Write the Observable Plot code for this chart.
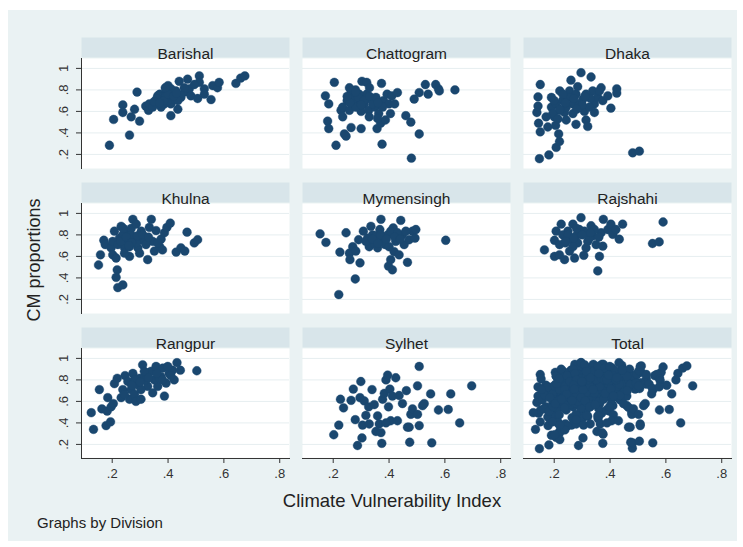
<!DOCTYPE html>
<html><head><meta charset="utf-8">
<script src="https://cdn.jsdelivr.net/npm/d3@7"></script>
<script src="https://cdn.jsdelivr.net/npm/@observablehq/plot@0.6"></script>
<style>
html,body{margin:0;padding:0;background:#fff;}
#wrap{position:relative;width:743px;height:547px;overflow:hidden;font-family:"Liberation Sans",Arial,sans-serif;}
#bg{position:absolute;left:8px;top:10px;width:729px;height:531px;background:#EAF2F3;}
#chart{position:absolute;left:0;top:0;}
.lbl{position:absolute;color:#222;white-space:nowrap;line-height:1;}
#ylab{left:34px;top:260px;font-size:18px;transform:translate(-50%,-50%) rotate(-90deg);}
#xlab{left:392px;top:501px;font-size:18.5px;transform:translate(-50%,-50%);}
#cap{left:37px;top:522px;font-size:15px;transform:translate(0,-50%);}
</style></head><body>
<div id="wrap"><div id="bg"></div><div id="chart"></div>
<div class="lbl" id="ylab">CM proportions</div>
<div class="lbl" id="xlab">Climate Vulnerability Index</div>
<div class="lbl" id="cap">Graphs by Division</div>
</div>
<script>
const divisions = ["Barishal","Chattogram","Dhaka","Khulna","Mymensingh","Rajshahi","Rangpur","Sylhet","Total"];
const xTicks = [0.2, 0.4, 0.6, 0.8];
const yTicks = [0.2, 0.4, 0.6, 0.8, 1];
const xDomain = [0.09, 0.835];
const yDomain = [0.069, 1.092];

const barishal = [[0.19,0.285],[0.205,0.525],[0.238,0.66],[0.238,0.59],[0.262,0.38],[0.268,0.55],[0.28,0.62],[0.289,0.78],[0.298,0.51],[0.32,0.65],[0.33,0.61],[0.345,0.67],[0.357,0.70],[0.37,0.76],[0.38,0.73],[0.393,0.79],[0.40,0.84],[0.405,0.73],[0.41,0.67],[0.41,0.56],[0.417,0.76],[0.428,0.79],[0.435,0.62],[0.44,0.88],[0.446,0.73],[0.458,0.78],[0.47,0.90],[0.476,0.81],[0.482,0.745],[0.512,0.93],[0.506,0.72],[0.512,0.87],[0.53,0.81],[0.554,0.71],[0.56,0.84],[0.577,0.82],[0.583,0.87],[0.643,0.86],[0.66,0.91],[0.675,0.93],[0.333,0.67],[0.345,0.64],[0.375,0.715],[0.387,0.67],[0.399,0.70],[0.423,0.715],[0.435,0.70],[0.411,0.81],[0.458,0.82],[0.375,0.64],[0.363,0.745],[0.393,0.745],[0.53,0.76],[0.494,0.85],[0.36,0.72],[0.385,0.70],[0.40,0.76],[0.42,0.74],[0.39,0.82],[0.35,0.69],[0.43,0.77],[0.37,0.68]];
const chattogram = [[0.204,0.87],[0.172,0.745],[0.184,0.67],[0.18,0.51],[0.184,0.44],[0.21,0.285],[0.228,0.61],[0.234,0.55],[0.24,0.39],[0.246,0.37],[0.258,0.82],[0.25,0.70],[0.264,0.45],[0.27,0.76],[0.275,0.65],[0.28,0.80],[0.287,0.71],[0.30,0.44],[0.30,0.60],[0.303,0.88],[0.31,0.665],[0.32,0.87],[0.32,0.76],[0.33,0.82],[0.327,0.61],[0.345,0.70],[0.35,0.64],[0.357,0.44],[0.363,0.58],[0.373,0.86],[0.375,0.295],[0.38,0.70],[0.37,0.49],[0.387,0.52],[0.393,0.76],[0.40,0.67],[0.405,0.58],[0.41,0.745],[0.42,0.67],[0.43,0.775],[0.46,0.56],[0.478,0.50],[0.48,0.165],[0.49,0.715],[0.508,0.39],[0.508,0.775],[0.53,0.85],[0.54,0.76],[0.567,0.85],[0.577,0.81],[0.58,0.79],[0.636,0.80],[0.234,0.64],[0.258,0.61],[0.27,0.70],[0.281,0.64],[0.293,0.76],[0.317,0.715],[0.341,0.67],[0.353,0.73],[0.329,0.55],[0.377,0.64],[0.264,0.79],[0.359,0.535],[0.26,0.68],[0.29,0.73],[0.31,0.70],[0.33,0.74],[0.36,0.68],[0.30,0.66],[0.28,0.78],[0.25,0.74]];
const dhaka = [[0.15,0.85],[0.142,0.735],[0.142,0.65],[0.138,0.59],[0.144,0.49],[0.15,0.41],[0.147,0.16],[0.181,0.195],[0.207,0.265],[0.219,0.32],[0.216,0.39],[0.177,0.455],[0.19,0.73],[0.19,0.64],[0.20,0.55],[0.205,0.47],[0.22,0.79],[0.23,0.70],[0.237,0.59],[0.243,0.52],[0.255,0.79],[0.26,0.89],[0.267,0.67],[0.278,0.76],[0.278,0.48],[0.284,0.83],[0.296,0.96],[0.302,0.71],[0.308,0.60],[0.314,0.52],[0.32,0.46],[0.332,0.92],[0.338,0.79],[0.344,0.67],[0.344,0.59],[0.356,0.73],[0.368,0.82],[0.374,0.70],[0.392,0.745],[0.403,0.63],[0.424,0.81],[0.424,0.77],[0.481,0.215],[0.505,0.23],[0.207,0.67],[0.219,0.61],[0.243,0.64],[0.255,0.73],[0.267,0.58],[0.29,0.67],[0.314,0.76],[0.326,0.64],[0.231,0.76],[0.195,0.58],[0.362,0.79],[0.171,0.55],[0.213,0.53],[0.20,0.70],[0.24,0.68],[0.27,0.72],[0.30,0.66],[0.33,0.72],[0.22,0.62],[0.28,0.62],[0.31,0.74]];
const khulna = [[0.151,0.52],[0.158,0.615],[0.17,0.75],[0.175,0.71],[0.196,0.68],[0.202,0.615],[0.208,0.835],[0.214,0.585],[0.218,0.475],[0.214,0.405],[0.22,0.31],[0.238,0.335],[0.226,0.77],[0.232,0.88],[0.244,0.68],[0.25,0.82],[0.256,0.74],[0.262,0.60],[0.268,0.86],[0.274,0.945],[0.28,0.77],[0.286,0.90],[0.292,0.68],[0.298,0.63],[0.31,0.75],[0.327,0.57],[0.333,0.87],[0.34,0.945],[0.345,0.74],[0.351,0.65],[0.357,0.84],[0.37,0.69],[0.375,0.76],[0.38,0.66],[0.387,0.82],[0.396,0.87],[0.408,0.91],[0.429,0.64],[0.446,0.68],[0.46,0.65],[0.468,0.825],[0.494,0.725],[0.506,0.755],[0.202,0.74],[0.22,0.71],[0.238,0.80],[0.244,0.63],[0.262,0.69],[0.268,0.80],[0.286,0.725],[0.304,0.835],[0.321,0.71],[0.363,0.725],[0.23,0.74],[0.25,0.78],[0.27,0.73],[0.29,0.79],[0.31,0.80],[0.26,0.70],[0.33,0.78],[0.24,0.86]];
const mymensingh = [[0.153,0.81],[0.174,0.73],[0.22,0.245],[0.224,0.64],[0.246,0.82],[0.258,0.63],[0.26,0.57],[0.27,0.69],[0.279,0.39],[0.281,0.65],[0.291,0.755],[0.296,0.54],[0.308,0.835],[0.323,0.77],[0.329,0.69],[0.335,0.88],[0.341,0.80],[0.347,0.72],[0.359,0.68],[0.367,0.85],[0.371,0.945],[0.377,0.755],[0.386,0.71],[0.395,0.80],[0.398,0.51],[0.406,0.57],[0.412,0.475],[0.415,0.865],[0.418,0.645],[0.424,0.74],[0.436,0.615],[0.442,0.935],[0.448,0.80],[0.454,0.71],[0.466,0.545],[0.472,0.755],[0.484,0.835],[0.496,0.85],[0.493,0.77],[0.603,0.75],[0.317,0.74],[0.353,0.79],[0.40,0.69],[0.406,0.835],[0.43,0.82],[0.46,0.835],[0.34,0.76],[0.37,0.80],[0.39,0.76],[0.42,0.78],[0.44,0.76],[0.36,0.72]];
const rajshahi = [[0.165,0.66],[0.201,0.75],[0.201,0.60],[0.207,0.835],[0.219,0.615],[0.225,0.90],[0.237,0.57],[0.24,0.725],[0.249,0.835],[0.255,0.65],[0.267,0.90],[0.273,0.585],[0.278,0.79],[0.284,0.725],[0.296,0.96],[0.306,0.61],[0.308,0.835],[0.32,0.74],[0.332,0.885],[0.338,0.79],[0.35,0.71],[0.356,0.465],[0.362,0.60],[0.368,0.82],[0.374,0.695],[0.376,0.945],[0.392,0.85],[0.403,0.90],[0.41,0.805],[0.421,0.85],[0.433,0.76],[0.445,0.90],[0.552,0.72],[0.576,0.735],[0.59,0.92],[0.231,0.80],[0.261,0.755],[0.29,0.85],[0.314,0.68],[0.326,0.77],[0.344,0.85],[0.219,0.71],[0.267,0.69],[0.25,0.80],[0.27,0.77],[0.30,0.80],[0.33,0.82],[0.36,0.78],[0.28,0.86],[0.24,0.74]];
const rangpur = [[0.125,0.495],[0.133,0.34],[0.154,0.71],[0.163,0.53],[0.178,0.375],[0.182,0.51],[0.184,0.635],[0.194,0.41],[0.196,0.55],[0.204,0.58],[0.208,0.765],[0.218,0.815],[0.232,0.635],[0.238,0.71],[0.246,0.84],[0.256,0.785],[0.262,0.62],[0.268,0.71],[0.274,0.86],[0.28,0.665],[0.285,0.60],[0.291,0.755],[0.297,0.815],[0.303,0.62],[0.309,0.94],[0.315,0.83],[0.327,0.74],[0.339,0.88],[0.345,0.68],[0.357,0.925],[0.363,0.74],[0.375,0.83],[0.381,0.91],[0.387,0.65],[0.393,0.77],[0.404,0.86],[0.416,0.89],[0.422,0.80],[0.432,0.96],[0.444,0.89],[0.503,0.885],[0.244,0.665],[0.279,0.80],[0.303,0.71],[0.321,0.80],[0.351,0.80],[0.369,0.815],[0.399,0.925],[0.315,0.88],[0.30,0.78],[0.33,0.82],[0.36,0.86],[0.38,0.80],[0.41,0.84],[0.27,0.75]];
const sylhet = [[0.202,0.29],[0.22,0.38],[0.226,0.62],[0.237,0.54],[0.264,0.61],[0.272,0.715],[0.279,0.43],[0.287,0.19],[0.296,0.635],[0.299,0.785],[0.303,0.26],[0.305,0.38],[0.311,0.605],[0.317,0.47],[0.327,0.55],[0.339,0.71],[0.347,0.57],[0.353,0.32],[0.359,0.465],[0.365,0.39],[0.371,0.31],[0.374,0.21],[0.377,0.62],[0.383,0.675],[0.389,0.80],[0.395,0.845],[0.398,0.55],[0.403,0.715],[0.406,0.42],[0.424,0.82],[0.43,0.42],[0.436,0.655],[0.448,0.58],[0.462,0.70],[0.466,0.36],[0.474,0.22],[0.478,0.48],[0.484,0.53],[0.502,0.745],[0.502,0.48],[0.508,0.925],[0.508,0.375],[0.52,0.56],[0.526,0.58],[0.549,0.67],[0.553,0.215],[0.577,0.52],[0.612,0.525],[0.621,0.67],[0.653,0.40],[0.696,0.745],[0.329,0.39],[0.389,0.40],[0.412,0.65],[0.472,0.36]];

const series = [barishal, chattogram, dhaka, khulna, mymensingh, rajshahi, rangpur, sylhet];
const points = [];
series.forEach((s, i) => s.forEach(([x, y]) => points.push({division: divisions[i], x, y})));
series.forEach(s => s.forEach(([x, y]) => points.push({division: "Total", x, y})));
const panels = divisions.map(d => ({division: d}));
const col = d => divisions.indexOf(d.division) % 3;
const row = d => Math.floor(divisions.indexOf(d.division) / 3);
const fmt = v => v === 1 ? "1" : String(v).replace(/^0\./, ".");

const navy = "#1A476F", axisColor = "#333";

const chart = Plot.plot({
  width: 743, height: 547,
  marginLeft: 80.2, marginRight: 11.2, marginTop: 56.7, marginBottom: 87.3,
  style: {background: "transparent", fontFamily: "'Liberation Sans', Arial, sans-serif", color: "#222"},
  fx: {axis: null, paddingInner: 0.0582, paddingOuter: 0},
  fy: {axis: null, paddingInner: 0.2397, paddingOuter: 0},
  x: {domain: xDomain, axis: null, label: null},
  y: {domain: yDomain, axis: null, label: null},
  marks: [
    Plot.frame({fill: "white"}),
    Plot.frame({fill: "#D8E5EA", insetTop: -21, insetBottom: 111}),
    Plot.text(panels, {fx: col, fy: row, text: "division", frameAnchor: "top", dy: -10.5, fontSize: 15.5, fill: "#222"}),
    Plot.gridY(yTicks, {stroke: "#E6EEF0", strokeOpacity: 1, strokeWidth: 1}),
    Plot.dot(points, {x: "x", y: "y", fx: d => col(d), fy: d => row(d), r: 4.4, fill: navy, stroke: navy, strokeWidth: 0.4}),
    Plot.frame({anchor: "left", facetAnchor: "left", stroke: axisColor}),
    Plot.frame({anchor: "bottom", facetAnchor: "bottom", stroke: axisColor}),
    Plot.axisY(yTicks, {tickFormat: fmt, tickRotate: -90, tickSize: 5, tickPadding: 9, fontSize: 13, color: axisColor, label: null}),
    Plot.axisX(xTicks, {tickFormat: fmt, tickSize: 5, tickPadding: 5.5, fontSize: 13, color: axisColor, label: null})
  ]
});
document.getElementById("chart").appendChild(chart);
</script>
</body></html>
